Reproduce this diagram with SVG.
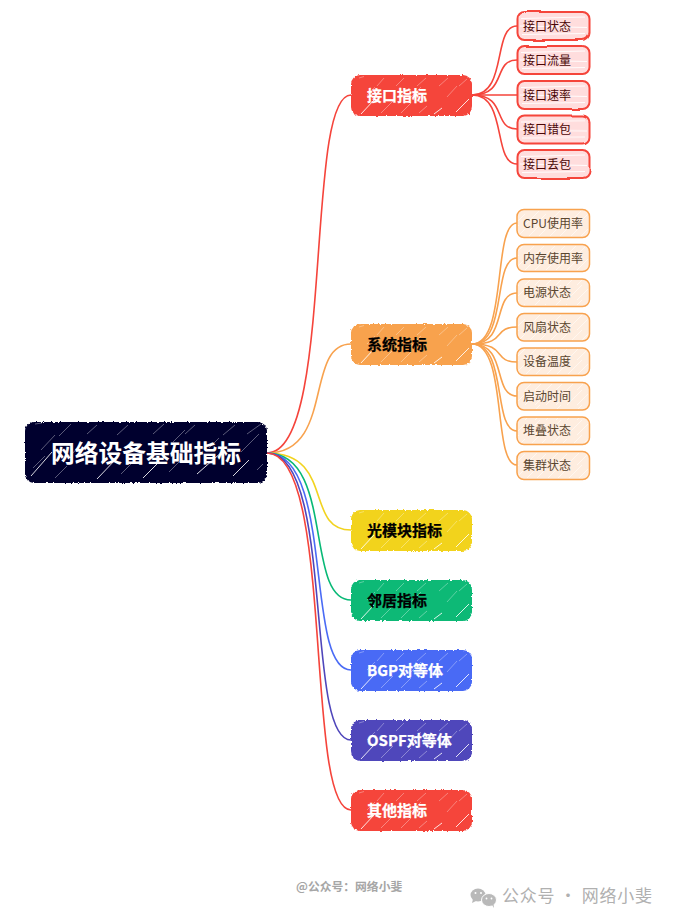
<svg xmlns="http://www.w3.org/2000/svg" width="673" height="923" viewBox="0 0 673 923">
<style>
text{font-family:"Noto Sans CJK SC","Liberation Sans",sans-serif}
.c{fill:none;stroke-width:1.6;stroke-linecap:round}
.l1{font-size:15px;font-weight:700;stroke-width:.25}
.l2{font-size:12px}
.m{stroke-width:1.5}
.hr{fill:url(#hachure)}
.fr{fill:none;stroke:#f5443b;stroke-width:2}
.fp{fill:#fdd}
.fo{fill:#feeddf;stroke:#f8a24e}
</style>
<defs>
<pattern id="hachure" patternUnits="objectBoundingBox" width="1" height="1">
<g fill="none" stroke="#fff">
<path d="M8 3L13 1.500M26 11L33 3M45 11L53 3M66 11L75 3M88 11L97 3M108 11L116 4M16 20L24 12M58 24L70 12M96 22L106 11" stroke-width=".6" stroke-opacity=".55"/>
<path d="M10 39L23 25M83 39L91 33M105 37L118 24" stroke-width=".9" stroke-opacity=".95"/>
<path d="M30 38L42 26M50 38L60 28M68 38L76 31" stroke-width=".6" stroke-opacity=".6"/>
</g>
</pattern>
<pattern id="hachureRoot" patternUnits="objectBoundingBox" width="1" height="1">
<g fill="none" stroke="#fff">
<path d="M10 2L17 1M34 14L46 2M62 12L72 3M92 13L103 3M128 12L139 2M160 12L170 3M198 13L210 3M222 12L236 2M16 28L30 13M46 33L58 20M216 30L234 12M184 26L194 16M8 46L20 34" stroke-width=".6" stroke-opacity=".6"/>
<path d="M6 54L27 30M72 57L92 36M118 56L132 42M172 52L198 29M208 54L224 38" stroke-width=".9" stroke-opacity=".95"/>
<path d="M30 56L42 44M96 52L106 42M144 50L156 38M232 48L238 42M148 20L160 8" stroke-width=".6" stroke-opacity=".6"/>
</g>
</pattern>
<pattern id="soft" patternUnits="userSpaceOnUse" width="21" height="15">
<path d="M0 15L15 0M10 15L21 4" stroke="#fff" stroke-width=".9" stroke-opacity=".6" fill="none"/>
</pattern>
<pattern id="lines" patternUnits="objectBoundingBox" width="1" height="1">
<path d="M2 5.500L66 4M1 13L68 14.500M3 21.500L66 20.500" stroke="#fff" stroke-width="1" stroke-opacity=".9" fill="none"/>
</pattern>
<filter id="rough" x="-5%" y="-10%" width="110%" height="120%">
<feTurbulence type="fractalNoise" baseFrequency=".45" numOctaves="2" seed="4"/>
<feDisplacementMap in="SourceGraphic" scale="3" xChannelSelector="R" yChannelSelector="G"/>
</filter>
<filter id="wob" x="-5%" y="-10%" width="110%" height="120%">
<feTurbulence type="fractalNoise" baseFrequency=".025" numOctaves="1" seed="7"/>
<feDisplacementMap in="SourceGraphic" scale="3" xChannelSelector="R" yChannelSelector="G"/>
</filter>
</defs>
<rect width="673" height="923" fill="#fff"/>
<g id="connectors">
<g>
<path class="c" stroke="#f5443b" d="M267 453C335 453 304 95 351 95"/>
<path class="c" stroke="#f8a24e" d="M267 453C335 453 304 344 351 344"/>
<path class="c" stroke="#f2d31f" d="M267 453C335 453 304 530 351 530"/>
<path class="c" stroke="#08b976" d="M267 453C335 453 304 600 351 600"/>
<path class="c" stroke="#4a6bf5" d="M267 453C335 453 304 670 351 670"/>
<path class="c" stroke="#4f46bb" d="M267 453C335 453 304 740 351 740"/>
<path class="c" stroke="#f5443b" d="M267 453C335 453 304 810 351 810"/>
</g>
<g stroke="#f5443b">
<path class="c" d="M472 95C508 95 492 26 517 26"/>
<path class="c" d="M472 95C508 95 492 60 517 60"/>
<path class="c" d="M472 95H517"/>
<path class="c" d="M472 95C508 95 492 129 517 129"/>
<path class="c" d="M472 95C508 95 492 164 517 164"/>
</g>
<g stroke="#f8a24e">
<path class="c" d="M472 344C508 344 492 223 517 223"/>
<path class="c" d="M472 344C508 344 492 258 517 258"/>
<path class="c" d="M472 344C508 344 492 293 517 293"/>
<path class="c" d="M472 344C508 344 492 327 517 327"/>
<path class="c" d="M472 344C508 344 492 362 517 362"/>
<path class="c" d="M472 344C508 344 492 396 517 396"/>
<path class="c" d="M472 344C508 344 492 431 517 431"/>
<path class="c" d="M472 344C508 344 492 465 517 465"/>
</g>
</g>
<g id="root">
<rect x="25" y="422" width="242" height="61" rx="9" fill="#01012e" filter="url(#rough)"/>
<rect x="25" y="422" width="242" height="61" rx="9" fill="url(#hachureRoot)"/>
<text x="146" y="462" text-anchor="middle" font-size="23.750" font-weight="700" fill="#fff">网络设备基础指标</text>
</g>
<g id="n1">
<rect x="351" y="75" width="121" height="41" rx="9" fill="#f5443b" filter="url(#rough)"/>
<rect x="351" y="75" width="121" height="41" rx="9" class="hr"/>
<text class="l1" x="367" y="100.500" fill="#fff" stroke="#fff">接口指标</text>
</g>
<g id="n2">
<rect x="351" y="324" width="121" height="41" rx="9" fill="#f8a24e" filter="url(#rough)"/>
<rect x="351" y="324" width="121" height="41" rx="9" class="hr"/>
<text class="l1" x="367" y="349.500" fill="#000" stroke="#000">系统指标</text>
</g>
<g id="n3">
<rect x="351" y="510" width="121" height="41" rx="9" fill="#f2d31f" filter="url(#rough)"/>
<rect x="351" y="510" width="121" height="41" rx="9" class="hr"/>
<text class="l1" x="367" y="535.500" fill="#000" stroke="#000">光模块指标</text>
</g>
<g id="n4">
<rect x="351" y="580" width="121" height="41" rx="9" fill="#08b976" filter="url(#rough)"/>
<rect x="351" y="580" width="121" height="41" rx="9" class="hr"/>
<text class="l1" x="367" y="605.500" fill="#000" stroke="#000">邻居指标</text>
</g>
<g id="n5">
<rect x="351" y="650" width="121" height="41" rx="9" fill="#4a6bf5" filter="url(#rough)"/>
<rect x="351" y="650" width="121" height="41" rx="9" class="hr"/>
<text class="l1" x="367" y="675.500" fill="#fff" stroke="#fff">BGP对等体</text>
</g>
<g id="n6">
<rect x="351" y="720" width="121" height="41" rx="9" fill="#4f46bb" filter="url(#rough)"/>
<rect x="351" y="720" width="121" height="41" rx="9" class="hr"/>
<text class="l1" x="367" y="745.500" fill="#fff" stroke="#fff">OSPF对等体</text>
</g>
<g id="n7">
<rect x="351" y="790" width="121" height="41" rx="9" fill="#f5443b" filter="url(#rough)"/>
<rect x="351" y="790" width="121" height="41" rx="9" class="hr"/>
<text class="l1" x="367" y="815.500" fill="#fff" stroke="#fff">其他指标</text>
</g>
<g id="r1"><rect x="517.500" y="12" width="72" height="28" rx="7" class="fp"/><rect x="519" y="13" width="69" height="26" fill="url(#lines)"/><rect x="517.500" y="12" width="72" height="28" rx="7" class="fr" filter="url(#wob)"/><text class="l2" x="523" y="31" fill="#4a0606">接口状态</text></g>
<g id="r2"><rect x="517.500" y="46" width="72" height="28" rx="7" class="fp"/><rect x="519" y="47" width="69" height="26" fill="url(#lines)"/><rect x="517.500" y="46" width="72" height="28" rx="7" class="fr" filter="url(#wob)"/><text class="l2" x="523" y="65" fill="#4a0606">接口流量</text></g>
<g id="r3"><rect x="517.500" y="81" width="72" height="28" rx="7" class="fp"/><rect x="519" y="82" width="69" height="26" fill="url(#lines)"/><rect x="517.500" y="81" width="72" height="28" rx="7" class="fr" filter="url(#wob)"/><text class="l2" x="523" y="100" fill="#4a0606">接口速率</text></g>
<g id="r4"><rect x="517.500" y="115.500" width="72" height="28" rx="7" class="fp"/><rect x="519" y="116.500" width="69" height="26" fill="url(#lines)"/><rect x="517.500" y="115.500" width="72" height="28" rx="7" class="fr" filter="url(#wob)"/><text class="l2" x="523" y="134" fill="#4a0606">接口错包</text></g>
<g id="r5"><rect x="517.500" y="150" width="72" height="28" rx="7" class="fp"/><rect x="519" y="151" width="69" height="26" fill="url(#lines)"/><rect x="517.500" y="150" width="72" height="28" rx="7" class="fr" filter="url(#wob)"/><text class="l2" x="523" y="169" fill="#4a0606">接口丢包</text></g>
<g id="o1"><rect x="517" y="209.500" width="72.500" height="28" rx="7" class="fo m"/><rect x="518" y="211" width="70" height="25" rx="6" fill="url(#soft)"/><text class="l2" x="523" y="228" fill="#5a4630">CPU使用率</text></g>
<g id="o2"><rect x="517" y="244.500" width="72.500" height="27" rx="7" class="fo m"/><rect x="518" y="246" width="70" height="24" rx="6" fill="url(#soft)"/><text class="l2" x="523" y="263" fill="#5a4630">内存使用率</text></g>
<g id="o3"><rect x="517" y="279" width="72.500" height="27.500" rx="7" class="fo m"/><rect x="518" y="280" width="70" height="25" rx="6" fill="url(#soft)"/><text class="l2" x="523" y="297" fill="#5a4630">电源状态</text></g>
<g id="o4"><rect x="517" y="313.500" width="72.500" height="27.500" rx="7" class="fo m"/><rect x="518" y="315" width="70" height="25" rx="6" fill="url(#soft)"/><text class="l2" x="523" y="332" fill="#5a4630">风扇状态</text></g>
<g id="o5"><rect x="517" y="348" width="72.500" height="27.500" rx="7" class="fo m"/><rect x="518" y="349" width="70" height="25" rx="6" fill="url(#soft)"/><text class="l2" x="523" y="366" fill="#5a4630">设备温度</text></g>
<g id="o6"><rect x="517" y="382.500" width="72.500" height="27.500" rx="7" class="fo m"/><rect x="518" y="384" width="70" height="25" rx="6" fill="url(#soft)"/><text class="l2" x="523" y="401" fill="#5a4630">启动时间</text></g>
<g id="o7"><rect x="517" y="417" width="72.500" height="27.500" rx="7" class="fo m"/><rect x="518" y="418" width="70" height="25" rx="6" fill="url(#soft)"/><text class="l2" x="523" y="435" fill="#5a4630">堆叠状态</text></g>
<g id="o8"><rect x="517" y="451.500" width="72.500" height="28" rx="7" class="fo m"/><rect x="518" y="453" width="70" height="25" rx="6" fill="url(#soft)"/><text class="l2" x="523" y="470" fill="#5a4630">集群状态</text></g>
<text x="296" y="891" font-size="11.800" font-weight="700" fill="#a6a6a6">@公众号：网络小斐</text>
<g id="wechat-icon">
<ellipse cx="478" cy="895" rx="7.500" ry="6.500" fill="#b9b9b9"/>
<path d="M473 899l-1 4 4-2z" fill="#b9b9b9"/>
<ellipse cx="489" cy="900" rx="7.500" ry="6.500" fill="#b9b9b9" stroke="#fff"/>
<path d="M492 905l2 3-.5-4z" fill="#b9b9b9"/>
<circle cx="475.500" cy="893" r="1" fill="#fff"/><circle cx="481" cy="893" r="1" fill="#fff"/>
<circle cx="486.500" cy="898.500" r=".9" fill="#fff"/><circle cx="491.500" cy="898.500" r=".9" fill="#fff"/>
</g>
<text x="502" y="902" font-size="17" letter-spacing=".7" fill="#b0b0b0">公众号 · 网络小斐</text>
</svg>
